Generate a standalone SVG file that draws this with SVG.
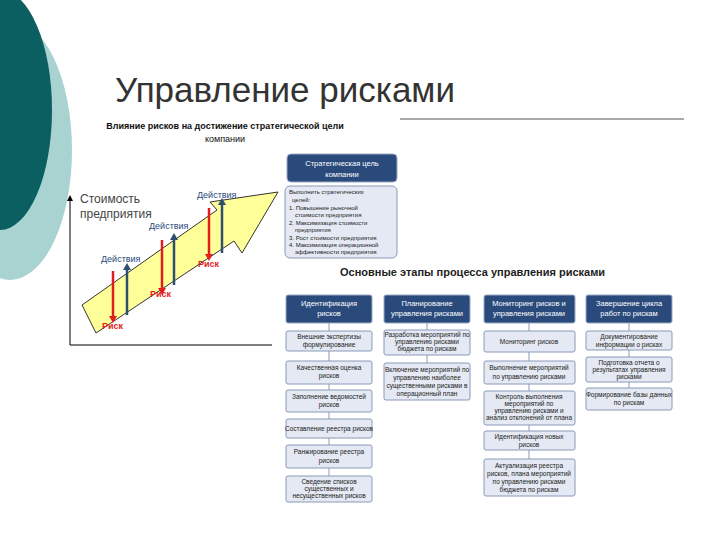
<svg xmlns="http://www.w3.org/2000/svg" width="720" height="540" viewBox="0 0 720 540">
<defs>
<style>
text{font-family:"Liberation Sans",Arial,sans-serif}
.h{fill:#2a4a7c;stroke:#9aaac4;stroke-width:1}
.ht{fill:#fff;font-size:7.5px;text-anchor:middle}
.b{fill:#e4e9f3;stroke:#8a9ab8;stroke-width:1}
.bt{fill:#222;font-size:6.5px;text-anchor:middle}
.c{stroke:#8a9ab8;stroke-width:1}
</style>
<marker id="ar" markerUnits="userSpaceOnUse" markerWidth="7" markerHeight="8" refX="2" refY="4" orient="auto"><path d="M0,0L7,4L0,8z" fill="#e21d1d"/></marker>
<marker id="ab" markerUnits="userSpaceOnUse" markerWidth="7" markerHeight="8" refX="2" refY="4" orient="auto"><path d="M0,0L7,4L0,8z" fill="#2f4f6f"/></marker>
<marker id="ax" markerUnits="userSpaceOnUse" markerWidth="6" markerHeight="6" refX="3" refY="3" orient="auto"><path d="M0,0L6,3L0,6z" fill="#000"/></marker>
</defs>
<rect width="720" height="540" fill="#fff"/>
<ellipse cx="10" cy="150" rx="62" ry="130" fill="#a9d3d1"/>
<ellipse cx="0" cy="110" rx="52" ry="120" fill="#0c5f60"/>
<text x="115" y="102" font-size="35" fill="#333">Управление рисками</text>
<line x1="400" y1="119" x2="684" y2="119" stroke="#555" stroke-width="1"/>
<text x="225" y="129" font-size="9" font-weight="bold" text-anchor="middle" fill="#111">Влияние рисков на достижение стратегической цели</text>
<text x="225" y="142" font-size="9" text-anchor="middle" fill="#111">компании</text>
<g id="chart">
<line x1="70" y1="345" x2="70" y2="198" stroke="#000" marker-end="url(#ax)"/>
<line x1="70" y1="345" x2="272" y2="345" stroke="#000"/>
<text x="80" y="203" font-size="12" fill="#444">Стоимость</text>
<text x="80" y="218" font-size="12" fill="#444">предприятия</text>
<polygon points="82,305 217,210 210,202 278,192 242,253 234,241 96,333" fill="#ffff99" stroke="#333" stroke-width="1"/>
<line x1="113" y1="271" x2="113" y2="318" stroke="#e21d1d" stroke-width="2.5" marker-end="url(#ar)"/>
<line x1="162" y1="240" x2="162" y2="290" stroke="#e21d1d" stroke-width="2.5" marker-end="url(#ar)"/>
<line x1="209" y1="208" x2="209" y2="256" stroke="#e21d1d" stroke-width="2.5" marker-end="url(#ar)"/>
<line x1="127" y1="315" x2="127" y2="268" stroke="#2f4f6f" stroke-width="2.5" marker-end="url(#ab)"/>
<line x1="174" y1="285" x2="174" y2="238" stroke="#2f4f6f" stroke-width="2.5" marker-end="url(#ab)"/>
<line x1="222" y1="253" x2="222" y2="203" stroke="#2f4f6f" stroke-width="2.5" marker-end="url(#ab)"/>
<text x="101" y="262" font-size="9" fill="#2a4a7c">Действия</text>
<text x="149" y="229" font-size="9" fill="#2a4a7c">Действия</text>
<text x="197" y="198" font-size="9" fill="#2a4a7c">Действия</text>
<text x="102" y="329" font-size="9" font-weight="bold" fill="#e21d1d">Риск</text>
<text x="150" y="297" font-size="9" font-weight="bold" fill="#e21d1d">Риск</text>
<text x="198" y="267" font-size="9" font-weight="bold" fill="#e21d1d">Риск</text>
</g>
<g id="goal">
<rect class="h" x="287" y="154" width="110" height="28" rx="4"/>
<text class="ht" x="342" y="166">Стратегическая цель</text>
<text class="ht" x="342" y="177">компании</text>
<rect class="b" x="285" y="186" width="112" height="72" rx="5"/>
<g font-size="6" fill="#222">
<text x="289" y="194">Выполнить стратегических</text>
<text x="292" y="202">целей:</text>
<text x="289" y="210">1. Повышение рыночной</text>
<text x="295" y="217">стоимости предприятия</text>
<text x="289" y="225">2. Максимизация стоимости</text>
<text x="295" y="232">предприятия</text>
<text x="289" y="240">3. Рост стоимости предприятия</text>
<text x="289" y="247">4. Максимизация операционной</text>
<text x="295" y="254">эффективности предприятия</text>
</g>
</g>
<text x="340" y="276" font-size="11" font-weight="bold" fill="#222">Основные этапы процесса управления рисками</text>
<g id="connectors">
<line class="c" x1="329" y1="323" x2="329" y2="496"/>
<line class="c" x1="427" y1="323" x2="427" y2="363"/>
<line class="c" x1="529" y1="323" x2="529" y2="459"/>
<line class="c" x1="629" y1="323" x2="629" y2="388"/>
</g>
<g id="col1">
<rect class="h" x="286" y="295" width="86" height="28" rx="2"/><text class="ht" x="329" y="306">Идентификация</text><text class="ht" x="329" y="316">рисков</text>
<rect class="b" x="286" y="331" width="86" height="20" rx="2"/><text class="bt" x="329" y="339">Внешние экспертизы</text><text class="bt" x="329" y="347">формулирование</text>
<rect class="b" x="286" y="361" width="86" height="23" rx="2"/><text class="bt" x="329" y="370">Качественная оценка</text><text class="bt" x="329" y="378">рисков</text>
<rect class="b" x="286" y="390" width="86" height="22" rx="2"/><text class="bt" x="329" y="399">Заполнение ведомостей</text><text class="bt" x="329" y="407">рисков</text>
<rect class="b" x="286" y="419" width="86" height="19" rx="2"/><text class="bt" x="329" y="431">Составление реестра рисков</text>
<rect class="b" x="286" y="445" width="86" height="23" rx="2"/><text class="bt" x="329" y="454">Ранжирование реестра</text><text class="bt" x="329" y="463">рисков</text>
<rect class="b" x="286" y="476" width="86" height="26" rx="2"/><text class="bt" x="329" y="484">Сведение списков</text><text class="bt" x="329" y="491">существенных и</text><text class="bt" x="329" y="498">несущественных рисков</text>
</g>
<g id="col2">
<rect class="h" x="384" y="295" width="86" height="28" rx="2"/><text class="ht" x="427" y="306">Планирование</text><text class="ht" x="427" y="316">управления рисками</text>
<rect class="b" x="384" y="330" width="86" height="25" rx="2"/><text class="bt" x="427" y="337">Разработка мероприятий по</text><text class="bt" x="427" y="344">управлению рисками</text><text class="bt" x="427" y="351">бюджета по рискам</text>
<rect class="b" x="384" y="363" width="86" height="37" rx="2"/><text class="bt" x="427" y="372">Включение мероприятий по</text><text class="bt" x="427" y="380">управлению наиболее</text><text class="bt" x="427" y="388">существенными рисками в</text><text class="bt" x="427" y="396">операционный план</text>
</g>
<g id="col3">
<rect class="h" x="484" y="295" width="91" height="28" rx="2"/><text class="ht" x="529" y="306">Мониторинг рисков и</text><text class="ht" x="529" y="316">управления рисками</text>
<rect class="b" x="484" y="331" width="91" height="21" rx="2"/><text class="bt" x="529" y="344">Мониторинг рисков</text>
<rect class="b" x="484" y="361" width="91" height="23" rx="2"/><text class="bt" x="529" y="370">Выполнение мероприятий</text><text class="bt" x="529" y="379">по управлению рисками</text>
<rect class="b" x="484" y="391" width="91" height="34" rx="2"/><text class="bt" x="529" y="399">Контроль выполнения</text><text class="bt" x="529" y="406">мероприятий по</text><text class="bt" x="529" y="413">управлению рисками и</text><text class="bt" x="529" y="420">анализ отклонений от плана</text>
<rect class="b" x="484" y="431" width="91" height="19" rx="2"/><text class="bt" x="529" y="439">Идентификация новых</text><text class="bt" x="529" y="447">рисков</text>
<rect class="b" x="484" y="459" width="91" height="37" rx="2"/><text class="bt" x="529" y="468">Актуализация реестра</text><text class="bt" x="529" y="476">рисков, плана мероприятий</text><text class="bt" x="529" y="484">по управлению рисками</text><text class="bt" x="529" y="492">бюджета по рискам</text>
</g>
<g id="col4">
<rect class="h" x="586" y="295" width="86" height="28" rx="2"/><text class="ht" x="629" y="306">Завершение цикла</text><text class="ht" x="629" y="316">работ по рискам</text>
<rect class="b" x="586" y="331" width="86" height="19" rx="2"/><text class="bt" x="629" y="339">Документирование</text><text class="bt" x="629" y="347">информации о рисках</text>
<rect class="b" x="586" y="357" width="86" height="25" rx="2"/><text class="bt" x="629" y="365">Подготовка отчета о</text><text class="bt" x="629" y="372">результатах управления</text><text class="bt" x="629" y="379">рисками</text>
<rect class="b" x="586" y="388" width="86" height="22" rx="2"/><text class="bt" x="629" y="397">Формирование базы данных</text><text class="bt" x="629" y="405">по рискам</text>
</g>
</svg>
